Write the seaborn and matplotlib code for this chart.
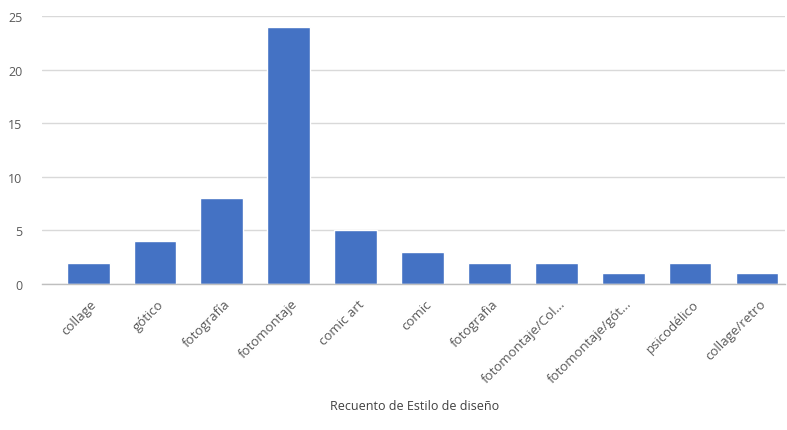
import matplotlib
matplotlib.use("Agg")
import matplotlib.pyplot as plt
import seaborn as sns
import pandas as pd
from matplotlib.transforms import ScaledTranslation

categories = ["collage", "gótico", "fotografía", "fotomontaje", "comic art", "comic",
              "fotografia", "fotomontaje/Col...", "fotomontaje/gót...", "psicodélico", "collage/retro"]
values = [2, 4, 8, 24, 5, 3, 2, 2, 1, 2, 1]
yticks = [0, 5, 10, 15, 20, 25]
xlabel = "Recuento de Estilo de diseño"

sns.set_theme(style="white")
plt.rcParams['font.family'] = ['Open Sans', 'DejaVu Sans']

df = pd.DataFrame({"cat": categories, "val": values})
fig = plt.figure(figsize=(7.87, 4.31), dpi=100)
ax = fig.add_axes([42/787, (431-285)/431, (785-42)/787, (285-17)/431])
sns.barplot(data=df, x="cat", y="val", color="#4472c4", saturation=1, width=0.64, ax=ax)
ax.set_xlim(-0.69, 10.42)
ax.set_ylim(0, 25)
ax.set_yticks(yticks)
ax.yaxis.grid(True, color="#d9d9d9", linewidth=1)
ax.set_axisbelow(True)
for s in ["top", "right", "left"]:
    ax.spines[s].set_visible(False)
ax.spines["bottom"].set_color("#bfbfbf")
ax.spines["bottom"].set_linewidth(1)
ax.tick_params(axis="both", length=0, colors="#595959", labelsize=9)
ax.tick_params(axis="y", pad=14)
ax.set_ylabel("")
ax.set_xticks(range(len(categories)))
ax.set_xticklabels(categories, rotation=45, ha="right", rotation_mode="anchor", color="#595959", fontsize=9.5)
for lbl in ax.get_xticklabels():
    lbl.set_transform(lbl.get_transform() + ScaledTranslation(2/100, -8/100, fig.dpi_scale_trans))
ax.set_xlabel(xlabel, color="#404040", fontsize=9)
ax.xaxis.set_label_coords((415-42)/(785-42), -(400-285)/(285-17))
fig.savefig("out.png", dpi=100)
